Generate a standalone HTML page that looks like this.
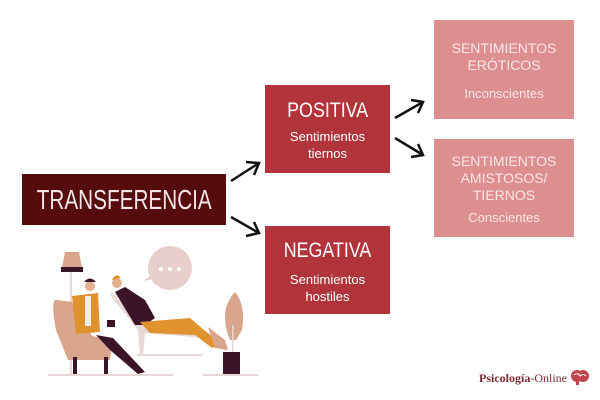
<!DOCTYPE html>
<html><head><meta charset="utf-8"><style>
body{margin:0;width:600px;height:400px;background:#fff;position:relative;overflow:hidden;font-family:"Liberation Sans",sans-serif;}
.b{position:absolute;color:#fff;text-align:center;box-sizing:border-box;}
.r{background:#b2343b;}
.p{background:#dd8f8f;color:#fbe6e6;}
.s{display:inline-block;transform:scaleX(0.85);}
</style></head><body>
<div class="b" style="left:22px;top:174px;width:204px;height:51px;background:#560b0d;line-height:51px;color:#f4e6e6;overflow:hidden;"><span style="display:inline-block;font-size:28px;transform:scaleX(0.74);white-space:nowrap;margin-left:-40px;margin-right:-40px;">TRANSFERENCIA</span></div>
<div class="b r" style="left:265px;top:85px;width:125px;height:88px;padding-top:14px;"><div style="font-size:21px;"><span class="s">POSITIVA</span></div><div style="font-size:13px;line-height:17px;margin-top:5px;">Sentimientos<br>tiernos</div></div>
<div class="b r" style="left:265px;top:226px;width:125px;height:88px;padding-top:13px;"><div style="font-size:21px;"><span class="s">NEGATIVA</span></div><div style="font-size:13px;line-height:17px;margin-top:8px;">Sentimientos<br>hostiles</div></div>
<div class="b p" style="left:434px;top:20px;width:140px;height:99px;padding-top:20px;"><div style="font-size:14px;line-height:17px;">SENTIMIENTOS<br>ERÓTICOS</div><div style="font-size:13px;margin-top:12px;">Inconscientes</div></div>
<div class="b p" style="left:434px;top:139px;width:140px;height:98px;padding-top:14px;"><div style="font-size:14px;line-height:17px;">SENTIMIENTOS<br>AMISTOSOS/<br>TIERNOS</div><div style="font-size:13px;margin-top:6px;">Conscientes</div></div>
<svg width="600" height="400" style="position:absolute;left:0;top:0" fill="none" stroke="#111" stroke-width="2.5">
<path d="M231 181 L259 163 M246 162 L259 163 L254 175"/>
<path d="M231 217 L259 233 M254 222 L259 233 L246 236"/>
<path d="M395 118 L423 102 M411 100 L423 102 L418 113"/>
<path d="M395 138 L423 155 M418 144 L423 155 L411 157"/>
<g stroke="none">
<rect x="48" y="374" width="125" height="2" fill="#e7d8d6"/>
<rect x="203" y="374" width="55" height="2" fill="#e7d8d6"/>
<path d="M65 252 L79 252 L82 268 L62 268Z" fill="#d9a58d"/><rect x="61" y="267" width="22" height="5" fill="#3b1428"/>
<rect x="70" y="272" width="2" height="102" fill="#e7d8d6"/>
<rect x="137" y="354" width="65" height="2" fill="#e7d8d6"/>
<path d="M112 292 L140 325 L207 332 L228 347 L226 351 L205 338 L145 333 L143 356 L140 356 L138 330 L110 295Z" fill="#e7d8d6"/>
<circle cx="170" cy="268" r="22" fill="#e8cfcc"/><path d="M150 276 L143 281 L154 279Z" fill="#e8cfcc"/>
<circle cx="161" cy="269" r="2" fill="#fff"/><circle cx="170" cy="269" r="2" fill="#fff"/><circle cx="179" cy="269" r="2" fill="#fff"/>
<path d="M115 292 L125 287 L145 300 L155 318 L145 325 L135 325Z" fill="#3b1428"/>
<path d="M140 322 L190 318 L210 335 L220 345 L212 348 L195 335 L150 333Z" fill="#e0922f"/>
<path d="M208 327 L225 340 L228 350 L215 348Z" fill="#d9a58d"/>
<circle cx="117" cy="283" r="5" fill="#e0b090"/><path d="M112 280 Q116 272 121 278Z" fill="#e0922f"/>
<path d="M57 300 Q50 298 56 330 L68 360 L110 360 L112 340 L92 336 L72 302Z" fill="#d9a58d"/>
<rect x="73" y="357" width="4" height="17" fill="#3b1428"/><rect x="104" y="357" width="4" height="17" fill="#3b1428"/>
<path d="M72 296 L98 293 L100 332 L76 334Z" fill="#e0922f"/><rect x="85" y="296" width="6" height="30" fill="#f6eee8"/>
<rect x="107" y="320" width="8" height="7" fill="#3b1428"/>
<circle cx="90" cy="286" r="5" fill="#e0b090"/><path d="M84 282 Q90 275 96 282Z" fill="#3b1428"/>
<path d="M96 335 L113 338 L145 372 L138 374 L110 350Z" fill="#3b1428"/>
<path d="M235 292 Q246 305 242 330 L236 340 L230 340 Q218 310 235 292Z" fill="#d9a58d"/>
<rect x="232" y="325" width="1.5" height="28" fill="#e7d8d6"/>
<path d="M223 352 L240 352 L240 374 L223 374Z" fill="#3b1428"/>
</g>
</svg>
<div style="position:absolute;left:479px;top:371px;font-family:'Liberation Serif',serif;font-size:12px;font-weight:bold;color:#7a2a30;white-space:nowrap;">Psicología<span style="font-weight:normal">-Online</span></div>
<svg width="20" height="16" style="position:absolute;left:570px;top:369px"><g fill="#c0454d"><circle cx="7" cy="7" r="6"/><circle cx="13" cy="7" r="6"/><rect x="6" y="11" width="3" height="5"/></g><path d="M4 6 Q8 3 10 7 Q13 4 16 7" stroke="#fff" fill="none"/></svg>
</body></html>
